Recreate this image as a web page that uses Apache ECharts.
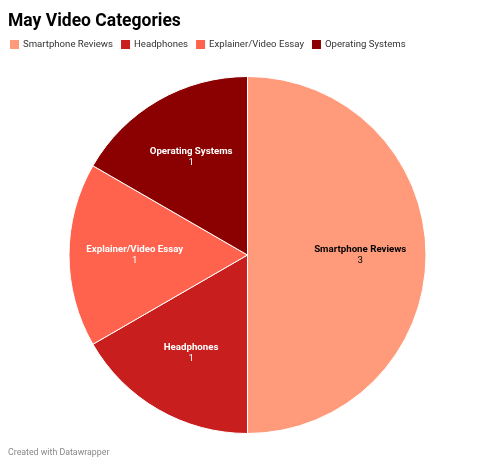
<!DOCTYPE html>
<html>
<head>
<meta charset="utf-8">
<script src="https://cdn.jsdelivr.net/npm/echarts@6/dist/echarts.min.js"></script>
<style>
html,body{margin:0;padding:0;background:#fff;}
#c{width:494px;height:467px;}
</style>
</head>
<body>
<div id="c"></div>
<script>
const categories = ["Smartphone Reviews", "Headphones", "Explainer/Video Essay", "Operating Systems"];
const values = [3, 1, 1, 1];
const colors = ["#FF9A7B", "#C81E1E", "#FF624D", "#8B0000"];
const labelColors = ["#000000", "#ffffff", "#ffffff", "#ffffff"];

const chart = echarts.init(document.getElementById('c'));
const data = categories.map((n, i) => ({
  name: n, value: values[i],
  itemStyle: { color: colors[i] },
  label: { color: labelColors[i] }
}));
const center = [247.5, 255];
chart.setOption({
  animation: false,
  color: colors,
  title: {
    text: "May Video Categories",
    left: 3, top: 8,
    textStyle: { fontFamily: "Roboto", fontWeight: "bold", fontSize: 17.5, color: "#000" }
  },
  legend: {
    left: 3, top: 33, width: 480,
    itemWidth: 11, itemHeight: 11, itemGap: 6,
    icon: 'rect',
    data: categories,
    textStyle: { fontFamily: "Roboto", fontSize: 9.6, color: "#333", padding: [0,0,0,-2] }
  },
  graphic: [{
    type: 'text', left: 8, top: 448,
    style: { text: "Created with Datawrapper", fontFamily: "Roboto", fontSize: 8.8, fill: "#888" }
  }],
  series: [{
    type: 'pie',
    center: center,
    radius: [0, 178.5],
    startAngle: 90,
    clockwise: true,
    data: data,
    label: { show: false },
    labelLine: { show: false },
    itemStyle: { borderColor: '#fff', borderWidth: 1 },
    emphasis: { disabled: true }
  }, {
    type: 'pie',
    center: center,
    radius: [41, 178.5],
    startAngle: 90,
    clockwise: true,
    silent: true,
    data: data.map(d => ({ name: d.name, value: d.value, itemStyle: { color: 'rgba(0,0,0,0)' }, label: d.label })),
    itemStyle: { borderWidth: 0 },
    labelLine: { show: false },
    label: {
      show: true,
      position: 'inside',
      formatter: p => '{n|' + p.name + '}\n{v|' + p.value + '}',
      rich: {
        n: { fontFamily: "Roboto", fontWeight: "bold", fontSize: 9.7, lineHeight: 11 },
        v: { fontFamily: "Roboto", fontSize: 9.7, lineHeight: 11 }
      }
    },
    emphasis: { disabled: true }
  }]
});
</script>
</body>
</html>
